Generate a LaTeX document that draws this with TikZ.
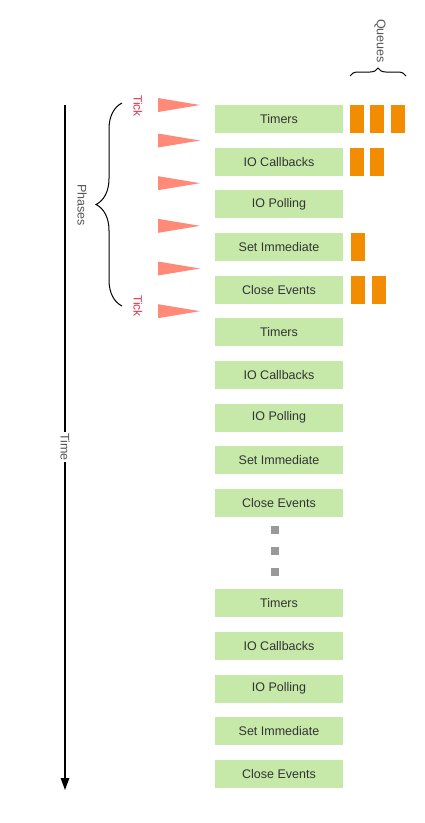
\documentclass[tikz,border=0pt]{standalone}
\usepackage{fontspec}
\setmainfont{Liberation Sans}
\usetikzlibrary{decorations.pathreplacing,arrows.meta}
\definecolor{boxgreen}{HTML}{C6E9A9}
\definecolor{qorange}{HTML}{F28C00}
\definecolor{trired}{HTML}{FF8A78}
\definecolor{ticktxt}{HTML}{D9334F}
\definecolor{labtxt}{HTML}{555555}
\definecolor{boxtxt}{HTML}{333333}
\definecolor{dotgray}{HTML}{999999}
\begin{document}
\begin{tikzpicture}[x=1pt,y=-1pt,
  phase/.style={fill=boxgreen,minimum width=128pt,minimum height=28pt,inner sep=0pt,text=boxtxt,font=\fontsize{12.5}{14}\selectfont},
  qbox/.style={fill=qorange,minimum width=14pt,minimum height=28pt,inner sep=0pt,anchor=north west},
  tri/.style={fill=trired},
  ticklab/.style={text=ticktxt,rotate=-90,font=\fontsize{12}{14}\selectfont,inner sep=0pt},
  sidelab/.style={text=labtxt,rotate=-90,font=\fontsize{12.5}{14}\selectfont,inner sep=1pt},
  dotsq/.style={fill=dotgray,minimum size=8pt,inner sep=0pt}
]
\useasboundingbox (0,0) rectangle (425,823);

% phase boxes
\foreach \n/\t [count=\i from 0] in {a/Timers,b/IO Callbacks,c/IO Polling,d/Set Immediate,e/Close Events,f/Timers,g/IO Callbacks,h/IO Polling,k/Set Immediate,l/Close Events}{
  \node[phase] (p\n) at (279,119+42.67*\i) {\t};
}
\foreach \n/\t [count=\i from 0] in {m/Timers,n/IO Callbacks,o/IO Polling,q/Set Immediate,r/Close Events}{
  \node[phase] (p\n) at (279,603.3+42.67*\i) {\t};
}

% dots
\node[dotsq] (d1) at (274.5,529.5) {};
\node[dotsq] (d2) at (274.5,550.5) {};
\node[dotsq] (d3) at (274.5,571.5) {};

% queues
\node[qbox] (qa1) at (350,105) {};
\node[qbox] (qa2) at (370,105) {};
\node[qbox] (qa3) at (391,105) {};
\node[qbox] (qb1) at (350,147.7) {};
\node[qbox] (qb2) at (370,147.7) {};
\node[qbox] (qd1) at (351,233) {};
\node[qbox] (qe1) at (351,275.7) {};
\node[qbox] (qe2) at (372,275.7) {};

% triangles
\fill[tri] (158,98) -- (200,105) -- (158,112) -- cycle;
\foreach \k in {0,...,4}{
  \fill[tri] (158,133.5+42.67*\k) -- (200,140.5+42.67*\k) -- (158,147.5+42.67*\k) -- cycle;
}

% tick labels
\node[ticklab] (tick1) at (138,106) {Tick};
\node[ticklab] (tick2) at (138,306) {Tick};

% phases brace
\draw[line width=1pt,decorate,decoration={brace,amplitude=26pt,aspect=0.5}] (122,306) -- (122,103);
\node[sidelab] (phases) at (82,205) {Phases};

% queues brace
\draw[line width=1pt,decorate,decoration={brace,amplitude=8pt,aspect=0.5}] (350,76) -- (406,76);
\node[sidelab] (queues) at (380,41) {Queues};

% time axis
\coordinate (ttop) at (65,105);
\coordinate (tbot) at (65,790);
\draw[line width=1.3pt,-{Triangle[length=12pt,width=8.5pt]}] (ttop) -- (tbot);
\node[sidelab,fill=white,inner ysep=0pt,inner xsep=1pt] (time) at (65,447) {Time};
\end{tikzpicture}
\end{document}
